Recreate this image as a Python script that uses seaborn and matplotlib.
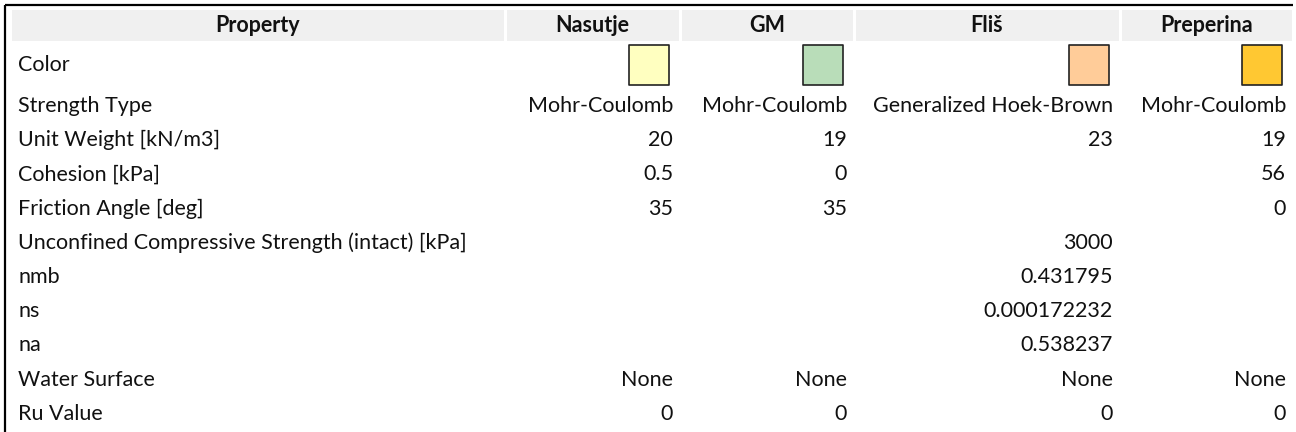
import numpy as np
import pandas as pd
import matplotlib.pyplot as plt
from matplotlib.patches import Rectangle
import seaborn as sns

# table content
materials = ['Nasutje', 'GM', 'Fliš', 'Preperina']
swatch_colors = ['#FFFFC0', '#B9DDB9', '#FFCC99', '#FFC832']
row_labels = ['Strength Type', 'Unit Weight [kN/m3]', 'Cohesion [kPa]', 'Friction Angle [deg]',
              'Unconfined Compressive Strength (intact) [kPa]', 'nmb', 'ns', 'na',
              'Water Surface', 'Ru Value']
strength_type = ['Mohr-Coulomb', 'Mohr-Coulomb', 'Generalized Hoek-Brown', 'Mohr-Coulomb']
unit_weight = ['20', '19', '23', '19']
cohesion = ['0.5', '0', '', '56']
friction_angle = ['35', '35', '', '0']
ucs_intact = ['', '', '3000', '']
nmb = ['', '', '0.431795', '']
ns = ['', '', '0.000172232', '']
na = ['', '', '0.538237', '']
water_surface = ['None', 'None', 'None', 'None']
ru_value = ['0', '0', '0', '0']
row_values = [strength_type, unit_weight, cohesion, friction_angle, ucs_intact,
              nmb, ns, na, water_surface, ru_value]

# layout (pixels)
W, H = 1296, 432
col_edges = [10, 505, 680, 854, 1120, 1293]
header_top, header_bot = 10, 41
color_row_y = 65
first_row_y = 106
row_step = 34.2
pad = 7
FONT = 15.5

sns.set_theme(style='white')
plt.rcParams['font.family'] = ['Lato', 'DejaVu Sans']

fig = plt.figure(figsize=(W / 100, H / 100), dpi=100)
ax = fig.add_axes([0, 0, 1, 1])
ax.set_xlim(0, W)
ax.set_ylim(H, 0)
ax.axis('off')

# frame lines
ax.plot([5, 1293], [5, 5], color='black', lw=1.6, solid_capstyle='butt')
ax.plot([5, 5], [5, H], color='black', lw=1.6, solid_capstyle='butt')

# header
headers = ['Property'] + materials
for i, h in enumerate(headers):
    x0, x1 = col_edges[i], col_edges[i + 1]
    ax.add_patch(Rectangle((x0 + 1.5, header_top), x1 - x0 - 3, header_bot - header_top,
                           facecolor='#F0F0F0', edgecolor='none'))
    ax.text((x0 + x1) / 2, (header_top + header_bot) / 2, h, ha='center', va='center',
            fontsize=FONT, fontweight='bold', color='#111111')

# color row
ax.text(col_edges[0] + pad + 1, color_row_y, 'Color', ha='left', va='center',
        fontsize=FONT, color='#111111')
sw = pd.DataFrame({
    'material': materials,
    'x': [col_edges[i + 2] - 10 - 21 for i in range(len(materials))],
    'y': [color_row_y] * len(materials),
})
sns.scatterplot(data=sw, x='x', y='y', hue='material', palette=swatch_colors,
                marker='s', s=29.5 ** 2, edgecolor='#222222', linewidth=1.2,
                legend=False, ax=ax)
ax.set_xlim(0, W)
ax.set_ylim(H, 0)

# data rows
for r, (label, vals) in enumerate(zip(row_labels, row_values)):
    y = first_row_y + r * row_step
    ax.text(col_edges[0] + pad + 1, y, label, ha='left', va='center',
            fontsize=FONT, color='#111111')
    for c, v in enumerate(vals):
        if v:
            ax.text(col_edges[c + 2] - pad, y, v, ha='right', va='center',
                    fontsize=FONT, color='#111111')

fig.savefig('out.png', dpi=100)
